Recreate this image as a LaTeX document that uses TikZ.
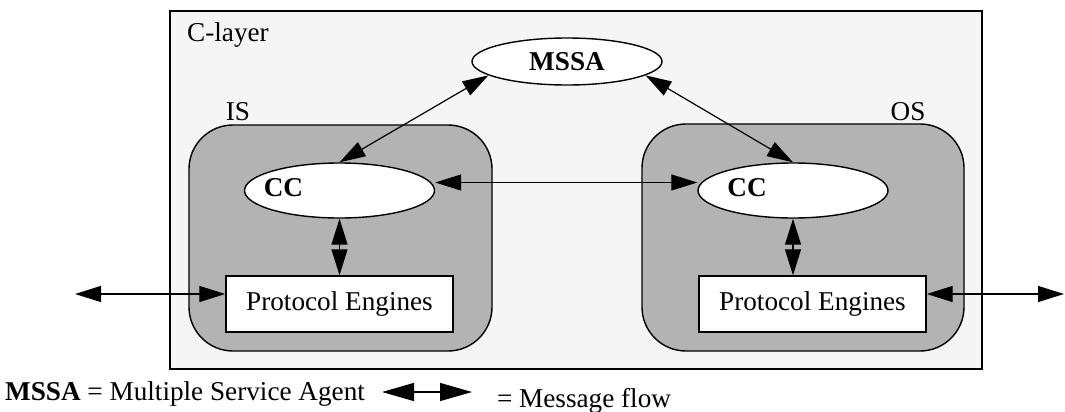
\documentclass[tikz,border=0pt]{standalone}
\usepackage{fontspec}
\setmainfont{Liberation Serif}
\usepackage{xcolor}
\usetikzlibrary{arrows.meta, shapes.geometric, calc, positioning}

\definecolor{layerbg}{HTML}{F5F5F5}
\definecolor{sidebg}{HTML}{B3B3B3}

\tikzset{
    layerbox/.style={draw, line width=0.7pt, fill=layerbg, inner sep=0pt},
    sidebox/.style={draw, line width=0.7pt, fill=sidebg, rounded corners=22pt, inner sep=0pt},
    agent/.style={draw, ellipse, line width=0.7pt, fill=white, inner sep=0pt, minimum width=95pt},
    engine/.style={draw, line width=0.7pt, fill=white, minimum width=113.5pt, minimum height=28pt, inner sep=0pt},
    msg/.style={line width=0.6pt, {Triangle[length=13pt, width=8pt]}-{Triangle[length=13pt, width=8pt]}},
    legmsg/.style={line width=0.6pt, {Triangle[length=16pt, width=9pt]}-{Triangle[length=16pt, width=9pt]}}
}

\begin{document}
\begin{tikzpicture}[x=0.5pt, y=-0.5pt, font=\fontsize{13.6}{16}\selectfont]
    \useasboundingbox (0,0) rectangle (1065,412);

    % layers
    \node[layerbox, minimum width=406pt, minimum height=179pt] (clayer) at (576,190) {};
    \node (clayertxt) at (228,35) {C-layer};
    \node[sidebox, minimum width=151.5pt, minimum height=113pt] (is) at (340.5,238) {};
    \node (istxt) at (238,112) {IS};
    \node[sidebox, minimum width=161pt, minimum height=113.5pt] (os) at (803,237.5) {};
    \node (ostxt) at (908,112) {OS};

    % agents
    \node[agent, minimum height=23.5pt] (mssa) at (567,61.5) {\textbf{MSSA}};
    \node[agent, minimum height=27.5pt] (ccL) at (339.5,190.5) {};
    \node (ccLtxt) at ([xshift=-28pt, yshift=1.5pt]ccL.center) {\textbf{CC}};
    \node[agent, minimum height=27.5pt] (ccR) at (793,190.5) {};
    \node (ccRtxt) at ([xshift=-23pt, yshift=1.5pt]ccR.center) {\textbf{CC}};

    \node[engine] (peL) at (339.5,304) {Protocol Engines};
    \node[engine] (peR) at (812.5,304) {Protocol Engines};

    \coordinate (extL) at (75,294);
    \coordinate (extR) at (1064,294);

    % message flows
    \draw[msg] (mssa.190) -- (ccL.north);
    \draw[msg] (mssa.-10) -- (ccR.north);
    \draw[msg] ([yshift=4pt]ccL.east) -- ([yshift=4pt]ccR.west);
    \draw[msg] (ccL.south) -- (peL.north);
    \draw[msg] (ccR.south) -- (ccR.south |- peR.north);
    \draw[msg] (extL) -- ([yshift=5pt]peL.west);
    \draw[msg] ([yshift=5pt]peR.east) -- (extR);

    % legend
    \node[anchor=base east] (legmssa) at (372,400) {\textbf{MSSA} = Multiple Service Agent};
    \coordinate (legA) at (382,392);
    \coordinate (legB) at (472,392);
    \draw[legmsg] (legA) -- (legB);
    \node[anchor=base west] (legflow) at (490,407) {= Message flow};
\end{tikzpicture}
\end{document}
